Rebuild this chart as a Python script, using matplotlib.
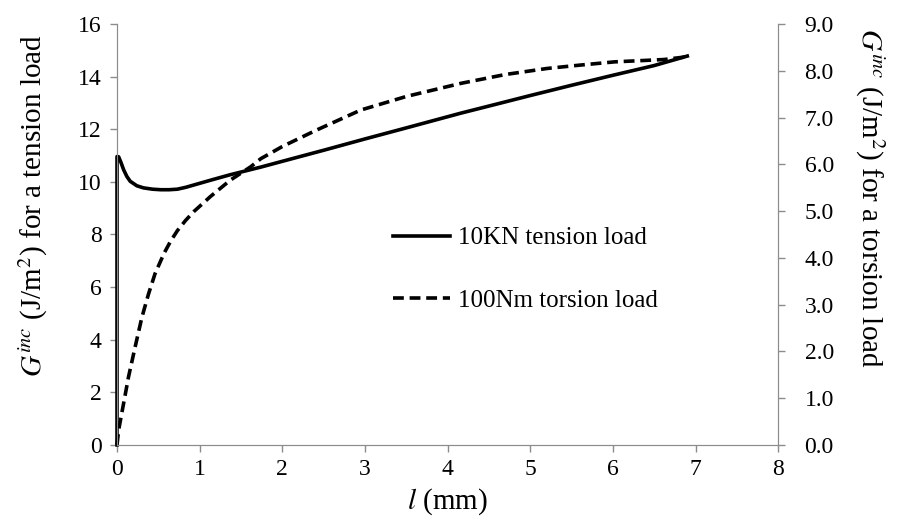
import numpy as np
import matplotlib.pyplot as plt

plt.rcParams['font.family'] = ['Liberation Serif', 'DejaVu Serif']
plt.rcParams['mathtext.fontset'] = 'stix'

# tension load, left axis (J/m^2)
l_tension = [0, 0, 0.02, 0.05, 0.08, 0.12, 0.16, 0.24, 0.32, 0.43, 0.53, 0.63, 0.73, 0.83, 0.93,
             1.13, 1.37, 1.74, 2.0, 2.5, 3.0, 3.5, 4.16, 4.6, 5.0, 5.5, 6.0, 6.5, 6.9]
g_tension = [0, 10.96, 10.95, 10.72, 10.46, 10.2, 10.02, 9.85, 9.77, 9.72, 9.70, 9.70, 9.72, 9.79, 9.88,
             10.06, 10.27, 10.56, 10.78, 11.2, 11.63, 12.05, 12.61, 12.96, 13.28, 13.67, 14.05, 14.42, 14.78]

# torsion load, right axis (J/m^2)
l_torsion = [0, 0.02, 0.08, 0.14, 0.22, 0.30, 0.38, 0.46, 0.57, 0.65, 0.73, 0.83, 0.93, 1.13, 1.37,
             1.62, 1.74, 2.0, 2.4, 2.95, 3.5, 4.16, 4.7, 5.21, 5.6, 6.02, 6.62, 6.9]
g_torsion = [0, 0.32, 0.89, 1.46, 2.10, 2.72, 3.22, 3.66, 4.1, 4.36, 4.58, 4.8, 4.99, 5.31, 5.66,
             5.95, 6.12, 6.38, 6.72, 7.16, 7.45, 7.73, 7.92, 8.05, 8.12, 8.19, 8.24, 8.30]

x_ticks = list(range(0, 9))
left_ticks = list(range(0, 17, 2))
right_ticks = np.arange(0, 9.5, 1.0)

grey = '#8c8c8c'

fig = plt.figure(figsize=(9.07, 5.21), dpi=100)
ax = fig.add_axes([0.129, 0.146, 0.729, 0.808])
ax2 = ax.twinx()

l1, = ax.plot(l_tension, g_tension, color='black', lw=2.6, label='10KN tension load',
              clip_on=False, zorder=5)
l2, = ax2.plot(l_torsion, g_torsion, color='black', lw=2.6, ls=(0, (3, 1.6)),
               label='100Nm torsion load', clip_on=False)

ax.set_xlim(0, 8)
ax.set_ylim(0, 16)
ax2.set_ylim(0, 9)
ax.set_xticks(x_ticks)
ax.set_yticks(left_ticks)
ax2.set_yticks(right_ticks)
ax2.set_yticklabels([f'{v:.1f}' for v in right_ticks])

for a in (ax, ax2):
    for s in a.spines.values():
        s.set_color(grey)
    a.spines['top'].set_visible(False)
    a.tick_params(colors=grey, labelcolor='black', labelsize=17, length=5, width=1)
ax.tick_params(axis='x', pad=5)
ax.tick_params(axis='y', pad=6)
ax2.tick_params(axis='y', pad=14)

ax.set_xlabel('$\\mathit{l}$ (mm)', fontsize=21, labelpad=5)
ax.set_ylabel('$G^{inc}$ (J/m$^{2}$) for a tension load', fontsize=21)
ax.yaxis.set_label_coords(-0.101, 0.568)
ax2.set_ylabel('$G^{inc}$ (J/m$^{2}$) for a torsion load', fontsize=21, rotation=-90)
ax2.yaxis.set_label_coords(1.164, 0.586)

ax.legend(handles=[l1, l2], loc='center left', bbox_to_anchor=(0.402, 0.417),
          borderaxespad=0, frameon=False, fontsize=18, handlelength=2.3,
          handletextpad=0.3, labelspacing=1.6)

fig.savefig('out.png', dpi=100)
